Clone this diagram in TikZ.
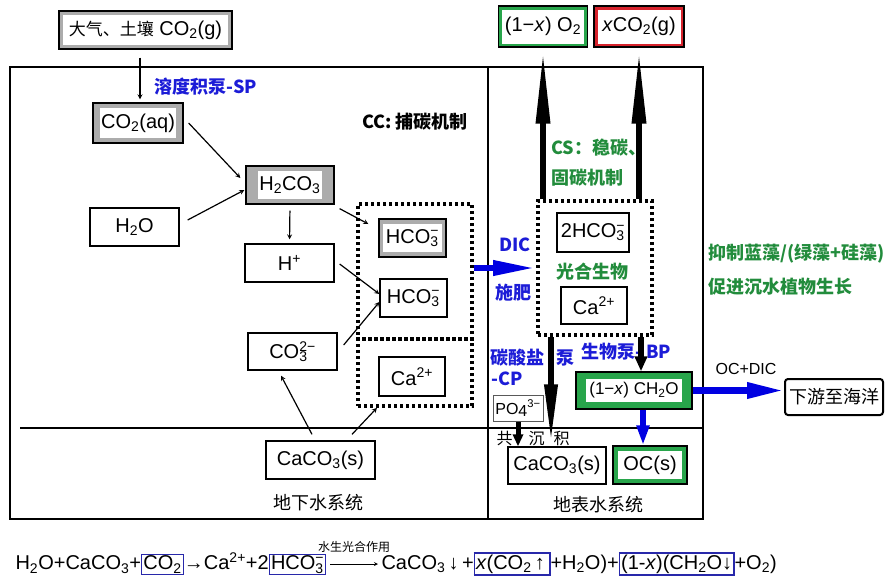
\documentclass[tikz,border=0pt]{standalone}
\usepackage{fontspec}
\setmainfont{Liberation Sans}
\newfontfamily\cjk{Noto Sans CJK SC}
\usetikzlibrary{arrows,arrows.meta}
\definecolor{pumpblue}{RGB}{28,28,215}
\definecolor{flowblue}{RGB}{0,0,225}
\definecolor{csgreen}{RGB}{34,140,60}
\definecolor{boxgreen}{RGB}{40,165,75}
\definecolor{boxred}{RGB}{215,35,45}
\definecolor{boxgray}{RGB}{172,172,172}
\definecolor{eqblue}{RGB}{40,40,170}
\newcommand{\sbsp}[2]{\rlap{\textsubscript{#1}}\textsuperscript{#2}}
\newcommand{\eqbox}[1]{{\fboxsep=1pt\fboxrule=1.3pt\fcolorbox{eqblue}{white}{#1}}}

\begin{document}
\begin{tikzpicture}[
    x=1pt, y=-1pt,
    box/.style 2 args={rectangle, draw, line width=1.3pt, minimum width=#1, minimum height=#2, inner sep=0pt, text centered, font=\fontsize{20}{24}\selectfont},
    band/.style n args={3}{fill=#1, path picture={\fill[white] ([shift={(#2,#3)}]path picture bounding box.south west) rectangle ([shift={(-#2,-#3)}]path picture bounding box.north east);}},
    dotbox/.style={rectangle, draw, line width=3.6pt, dash pattern=on 3.4pt off 2.6pt},
    pump/.style={text=pumpblue, font=\cjk\bfseries\fontsize{18}{22}\selectfont},
    mech/.style={text=csgreen, font=\cjk\bfseries\fontsize{18}{22}\selectfont},
    zh/.style={font=\cjk\fontsize{18}{22}\selectfont},
    arrow/.style={->, >=stealth, line width=1.2pt},
    fat/.style 2 args={line width=6.5pt, -{Triangle[length=#1, width=#2]}}
]
    \useasboundingbox (0,0) rectangle (893,579);

    \draw[line width=1.3pt] (10,67) rectangle (703,519);
    \draw[line width=1.3pt] (488,67) -- (488,519);
    \draw[line width=1.3pt] (20,428) -- (703,428);

    \node[box={173pt}{38pt}, band={boxgray}{4pt}{4pt}] (atm) at (145.5,30) {{\cjk\fontsize{17}{20}\selectfont 大气、土壤} CO\textsubscript{2}(g)};
    \node[box={90pt}{40pt}, band={boxgray}{7pt}{5pt}] (co2aq) at (138,123) {CO\textsubscript{2}(aq)};
    \node[box={88pt}{38pt}, band={boxgray}{12pt}{5pt}] (h2co3) at (290,185) {H\textsubscript{2}CO\textsubscript{3}};
    \node[box={89pt}{38pt}] (h2o) at (134.5,227) {H\textsubscript{2}O};
    \node[box={89pt}{38pt}] (hp) at (289.5,263) {H\textsuperscript{+}};
    \node[box={89pt}{37pt}] (co3) at (292.5,351.5) {CO\sbsp{3}{2−}};

    \node[dotbox, minimum width=114pt, minimum height=202pt] (dgw) at (415,305) {};
    \draw[line width=3.6pt, dash pattern=on 3.4pt off 2.6pt] (dgw.west |- 0,339) -- (dgw.east |- 0,339);
    \node[box={67pt}{38pt}, band={boxgray}{4pt}{5pt}] (hco3a) at (412.5,238) {HCO\sbsp{3}{−}};
    \node[box={67pt}{38pt}] (hco3b) at (413.5,298) {HCO\sbsp{3}{−}};
    \node[box={66pt}{39pt}] (cagw) at (412,376.5) {Ca\textsuperscript{2+}};
    \node[box={109pt}{38pt}] (calgw) at (320.5,460) {CaCO\textsubscript{3}(s)};
    \node[zh] (gwname) at (318,503) {地下水系统};

    \node[pump] (sp) at (206,87) {溶度积泵-SP};
    \node[font=\cjk\bfseries\fontsize{18}{22}\selectfont] (cc) at (415,122) {CC: 捕碳机制};

    \node[box={89pt}{41pt}, band={boxgreen}{3.5pt}{3.5pt}] (o2) at (543,26.5) {(1−\textit{x}) O\textsubscript{2}};
    \node[box={90pt}{41pt}, band={boxred}{3.5pt}{3.5pt}] (xco2) at (639,26.5) {\textit{x}CO\textsubscript{2}(g)};

    \node[mech, anchor=west] (cs1) at (548,148) {CS：稳碳、};
    \node[mech, anchor=west] (cs2) at (548,178) {固碳机制};

    \node[dotbox, minimum width=114pt, minimum height=134pt] (dcs) at (595,268) {};
    \node[box={72pt}{39pt}] (hco3c) at (593,232.5) {2HCO\sbsp{3}{−}};
    \node[mech] (photo) at (592,272) {光合生物};
    \node[box={66pt}{37pt}] (cacs) at (594,305.5) {Ca\textsuperscript{2+}};

    \node[pump] (dic) at (515,245) {DIC};
    \node[pump] (fei) at (513,293) {施肥};
    \node[pump] (cp1) at (517,358) {碳酸盐};
    \node[pump] (cp2) at (565,358) {泵};
    \node[pump] (cp3) at (507,379) {-CP};
    \node[pump] (bp) at (626,352) {生物泵- BP};

    \node[box={116pt}{37pt}, band={boxgreen}{10pt}{7pt}, font=\fontsize{17}{20}\selectfont] (ch2o) at (634,390.5) {(1−\textit{x}) CH\textsubscript{2}O};
    \node[box={98pt}{36pt}, rounded corners=3pt, line width=2pt, font=\cjk\fontsize{18}{22}\selectfont] (ocean) at (834,397) {下游至海洋};
    \node[font=\fontsize{16}{19}\selectfont] (ocdic) at (746,369) {OC+DIC};
    \node[box={50pt}{26pt}, draw=gray!70!black, line width=1pt, font=\fontsize{16}{19}\selectfont] (po4) at (518,408) {PO\raisebox{-2pt}{4}\textsuperscript{3−}};
    \node[zh, font=\cjk\fontsize{16}{19}\selectfont] (gcj) at (533,438) {共\hspace{16pt}沉\hspace{9pt}积};
    \node[box={98pt}{37pt}] (ccs) at (557,465.5) {CaCO\textsubscript{3}(s)};
    \node[box={74pt}{38pt}, band={boxgreen}{5pt}{5pt}] (ocs) at (650,465) {OC(s)};
    \node[zh] (swname) at (598,505) {地表水系统};

    \node[mech, anchor=west] (alg1) at (705,254) {抑制蓝藻/(绿藻+硅藻)};
    \node[mech, anchor=west] (alg2) at (705,287) {促进沉水植物生长};

    \draw[arrow, shorten <=8pt, shorten >=3pt] ([xshift=2pt]co2aq.north |- atm.south) -- ([xshift=2pt]co2aq.north);
    \draw[arrow] ([xshift=5pt]co2aq.east) -- ([shift={(-5pt,7pt)}]h2co3.west);
    \draw[arrow] ([shift={(8pt,7pt)}]h2o.east) -- ([shift={(-1pt,-5pt)}]h2co3.west);
    \draw[arrow, shorten <=6pt, shorten >=4pt] (h2co3.south) -- (hp.north);
    \draw[arrow] ([shift={(5pt,-4pt)}]h2co3.south east) -- ([shift={(-10pt,14pt)}]hco3a.west);
    \draw[arrow] ([shift={(5pt,-1pt)}]hp.east) -- ([yshift=4pt]hco3b.west);
    \draw[arrow] ([shift={(6pt,6.5pt)}]co3.east) -- ([yshift=-4pt]hco3b.west);
    \draw[arrow] ([shift={(-8.5pt,6pt)}]calgw.north) -- ([shift={(-11.5pt,-5pt)}]co3.south);
    \draw[arrow] ([shift={(31.5pt,6pt)}]calgw.north) -- ([xshift=-38pt]dgw.south);

    \draw[fat={76pt}{13pt}] (o2.south |- dcs.north) -- (o2.south);
    \draw[fat={76pt}{13pt}] (xco2.south |- dcs.north) -- (xco2.south);
    \draw[fat={62pt}{12pt}] ([xshift=-6pt]ccs.north |- dcs.south) -- ([xshift=-6pt]ccs.north);
    \draw[fat={15pt}{12pt}] ([xshift=7pt]ch2o.north |- dcs.south) -- ([xshift=7pt]ch2o.north);
    \draw[line width=5pt, -{Triangle[length=12pt, width=10pt]}] (po4.south) -- (po4.south |- ccs.north);
    \draw[flowblue, fat={43pt}{14pt}] ([yshift=37pt]dgw.east) -- (dcs.west);
    \draw[flowblue, fat={37pt}{15pt}] (ch2o.east) -- (ch2o.east -| ocean.west);
    \draw[flowblue, fat={20pt}{12pt}] ([xshift=9pt]ch2o.south) -- ([xshift=-7pt]ocs.north);

    \node[anchor=west, font=\fontsize{20}{24}\selectfont] (eql) at (12,564) {H\textsubscript{2}O+CaCO\textsubscript{3}+\eqbox{CO\textsubscript{2}}→Ca\textsuperscript{2+}+2\eqbox{HCO\sbsp{3}{−}}};
    \node[anchor=west, font=\fontsize{20}{24}\selectfont] (eqr) at (378,564) {CaCO\textsubscript{3}\,↓\,+\eqbox{\textit{x}(CO\textsubscript{2}\,↑\,}+H\textsubscript{2}O)+\eqbox{(1-\textit{x})(CH\textsubscript{2}O↓}+O\textsubscript{2})};
    \draw[->, >=stealth, line width=0.8pt] (eql.east) -- (eqr.west) node[midway, above=8pt, font=\cjk\fontsize{12}{14}\selectfont] (eqlab) {水生光合作用};
\end{tikzpicture}
\end{document}
